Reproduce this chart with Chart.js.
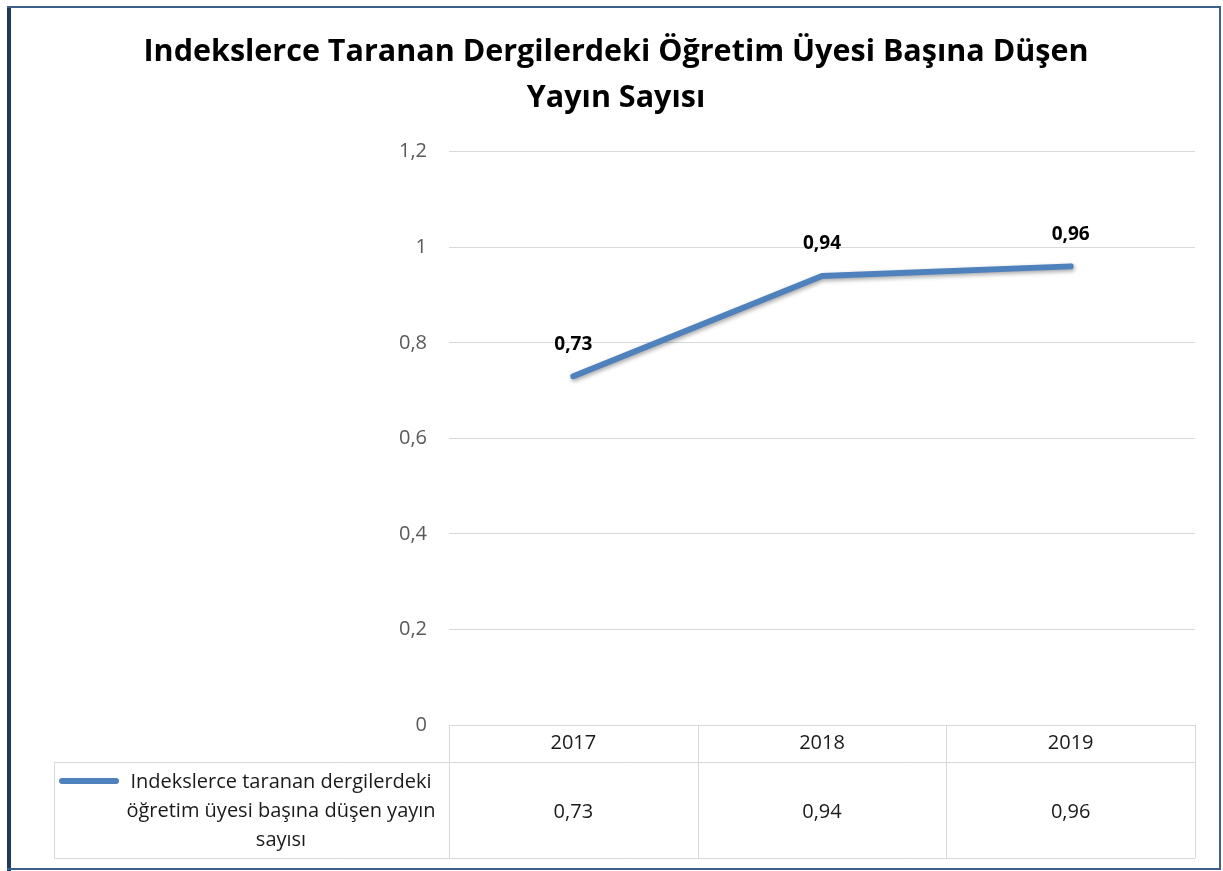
<!DOCTYPE html>
<html>
<head>
<meta charset="utf-8">
<script src="https://cdn.jsdelivr.net/npm/chart.js@4"></script>
<style>
  html, body { margin: 0; padding: 0; background: #fff; }
  #wrap { width: 1223px; height: 871px; position: relative; }
</style>
</head>
<body>
<div id="wrap"><canvas id="grafik"></canvas></div>
<script>
const years = ["2017", "2018", "2019"];
const values = [0.73, 0.94, 0.96];
const seriesName = "Indekslerce taranan dergilerdeki öğretim üyesi başına düşen yayın sayısı";
const seriesLines = ["Indekslerce taranan dergilerdeki", "öğretim üyesi başına düşen yayın", "sayısı"];
const titleLines = ["Indekslerce Taranan Dergilerdeki Öğretim Üyesi Başına Düşen", "Yayın Sayısı"];

const FONT = "'Open Sans', Lato, sans-serif";
const BLUE = "#4F81BD";
const GRID = "#D9D9D9";

function virgul(v) {
    return String(Math.round(v * 100) / 100).replace(".", ",");
}

// cadre autour du graphique
const cadre = {
    id: "cadre",
    beforeDraw(chart) {
        const ctx = chart.ctx;
        ctx.save();
        ctx.fillStyle = "#fff";
        ctx.fillRect(0, 0, chart.width, chart.height);
        ctx.strokeStyle = "#1F3A60";
        ctx.lineWidth = 4;
        ctx.beginPath();
        ctx.moveTo(9, 6);
        ctx.lineTo(9, 871);
        ctx.stroke();
        ctx.strokeStyle = "#3E5F8A";
        ctx.lineWidth = 2;
        ctx.beginPath();
        ctx.moveTo(7, 7);
        ctx.lineTo(1220, 7);
        ctx.lineTo(1220, 869);
        ctx.lineTo(7, 869);
        ctx.stroke();
        ctx.restore();
    },
};

// ombre sous la ligne
const ombre = {
    id: "ombre",
    beforeDatasetDraw(chart) {
        const ctx = chart.ctx;
        ctx.save();
        ctx.shadowColor = "rgba(0,0,0,0.35)";
        ctx.shadowBlur = 4;
        ctx.shadowOffsetX = 1;
        ctx.shadowOffsetY = 2;
    },
    afterDatasetDraw(chart) {
        chart.ctx.restore();
    },
};

// etiquettes des valeurs
const etiquettes = {
    id: "etiquettes",
    afterDatasetsDraw(chart) {
        const ctx = chart.ctx;
        const meta = chart.getDatasetMeta(0);
        ctx.save();
        ctx.font = "bold 19px " + FONT;
        ctx.fillStyle = "#000";
        ctx.textAlign = "center";
        ctx.textBaseline = "middle";
        meta.data.forEach((p, i) => {
            ctx.fillText(virgul(values[i]), p.x, p.y - 32);
        });
        ctx.restore();
    },
};

// tableau de donnees sous l'axe
const tableau = {
    id: "tableau",
    afterDraw(chart) {
        const ctx = chart.ctx;
        const a = chart.chartArea;
        const xs = chart.scales.x;
        const colW = (a.right - a.left) / years.length;
        const top = a.bottom;
        const row1 = top + 37;
        const row2 = row1 + 96;
        const legLeft = 54;

        ctx.save();
        ctx.strokeStyle = GRID;
        ctx.lineWidth = 1;
        ctx.beginPath();
        for (let i = 0; i <= years.length; i++) {
            const x = Math.round(a.left + i * colW) + 0.5;
            ctx.moveTo(x, top);
            ctx.lineTo(x, row2);
        }
        ctx.moveTo(legLeft + 0.5, row1);
        ctx.lineTo(legLeft + 0.5, row2);
        ctx.moveTo(legLeft, row1 + 0.5);
        ctx.lineTo(a.right, row1 + 0.5);
        ctx.moveTo(legLeft, row2 + 0.5);
        ctx.lineTo(a.right, row2 + 0.5);
        ctx.stroke();

        ctx.font = "20px " + FONT;
        ctx.fillStyle = "#1a1a1a";
        ctx.textAlign = "center";
        ctx.textBaseline = "middle";
        years.forEach((y, i) => {
            const x = xs.getPixelForValue(i);
            ctx.fillText(y, x, (top + row1) / 2);
            ctx.fillText(virgul(values[i]), x, (row1 + row2) / 2 + 2);
        });

        // legende dans la premiere cellule
        ctx.strokeStyle = BLUE;
        ctx.lineWidth = 6;
        ctx.lineCap = "round";
        ctx.beginPath();
        ctx.moveTo(62, row1 + 19);
        ctx.lineTo(116, row1 + 19);
        ctx.stroke();
        const cx = 281;
        seriesLines.forEach((l, i) => {
            ctx.fillText(l, cx, row1 + 20 + i * 29);
        });
        ctx.restore();
    },
};

new Chart(document.querySelector("#grafik"), {
    type: "line",
    data: {
        labels: years,
        datasets: [
            {
                label: seriesName,
                data: values,
                borderColor: BLUE,
                backgroundColor: BLUE,
                borderWidth: 6,
                borderCapStyle: "round",
                borderJoinStyle: "round",
                pointRadius: 0,
                tension: 0,
            },
        ],
    },
    options: {
        responsive: true,
        maintainAspectRatio: false,
        animation: false,
        layout: {
            padding: { top: 0, left: 37, right: 28, bottom: 146 },
        },
        plugins: {
            legend: { display: false },
            tooltip: { enabled: false },
            title: {
                display: true,
                text: titleLines,
                color: "#000",
                font: { family: FONT, size: 30.5, weight: "bold", lineHeight: 1.52 },
                padding: { top: 29, bottom: 30 },
            },
        },
        scales: {
            x: {
                display: false,
                offset: true,
            },
            y: {
                min: 0,
                max: 1.2,
                afterFit(s) {
                    s.width = 412;
                },
                border: { display: false },
                grid: { color: GRID, lineWidth: 1, drawTicks: false },
                ticks: {
                    stepSize: 0.2,
                    padding: 22,
                    color: "#595959",
                    font: { family: FONT, size: 20 },
                    callback: (v) => virgul(v),
                },
            },
        },
    },
    plugins: [cadre, ombre, etiquettes, tableau],
});
</script>
</body>
</html>
